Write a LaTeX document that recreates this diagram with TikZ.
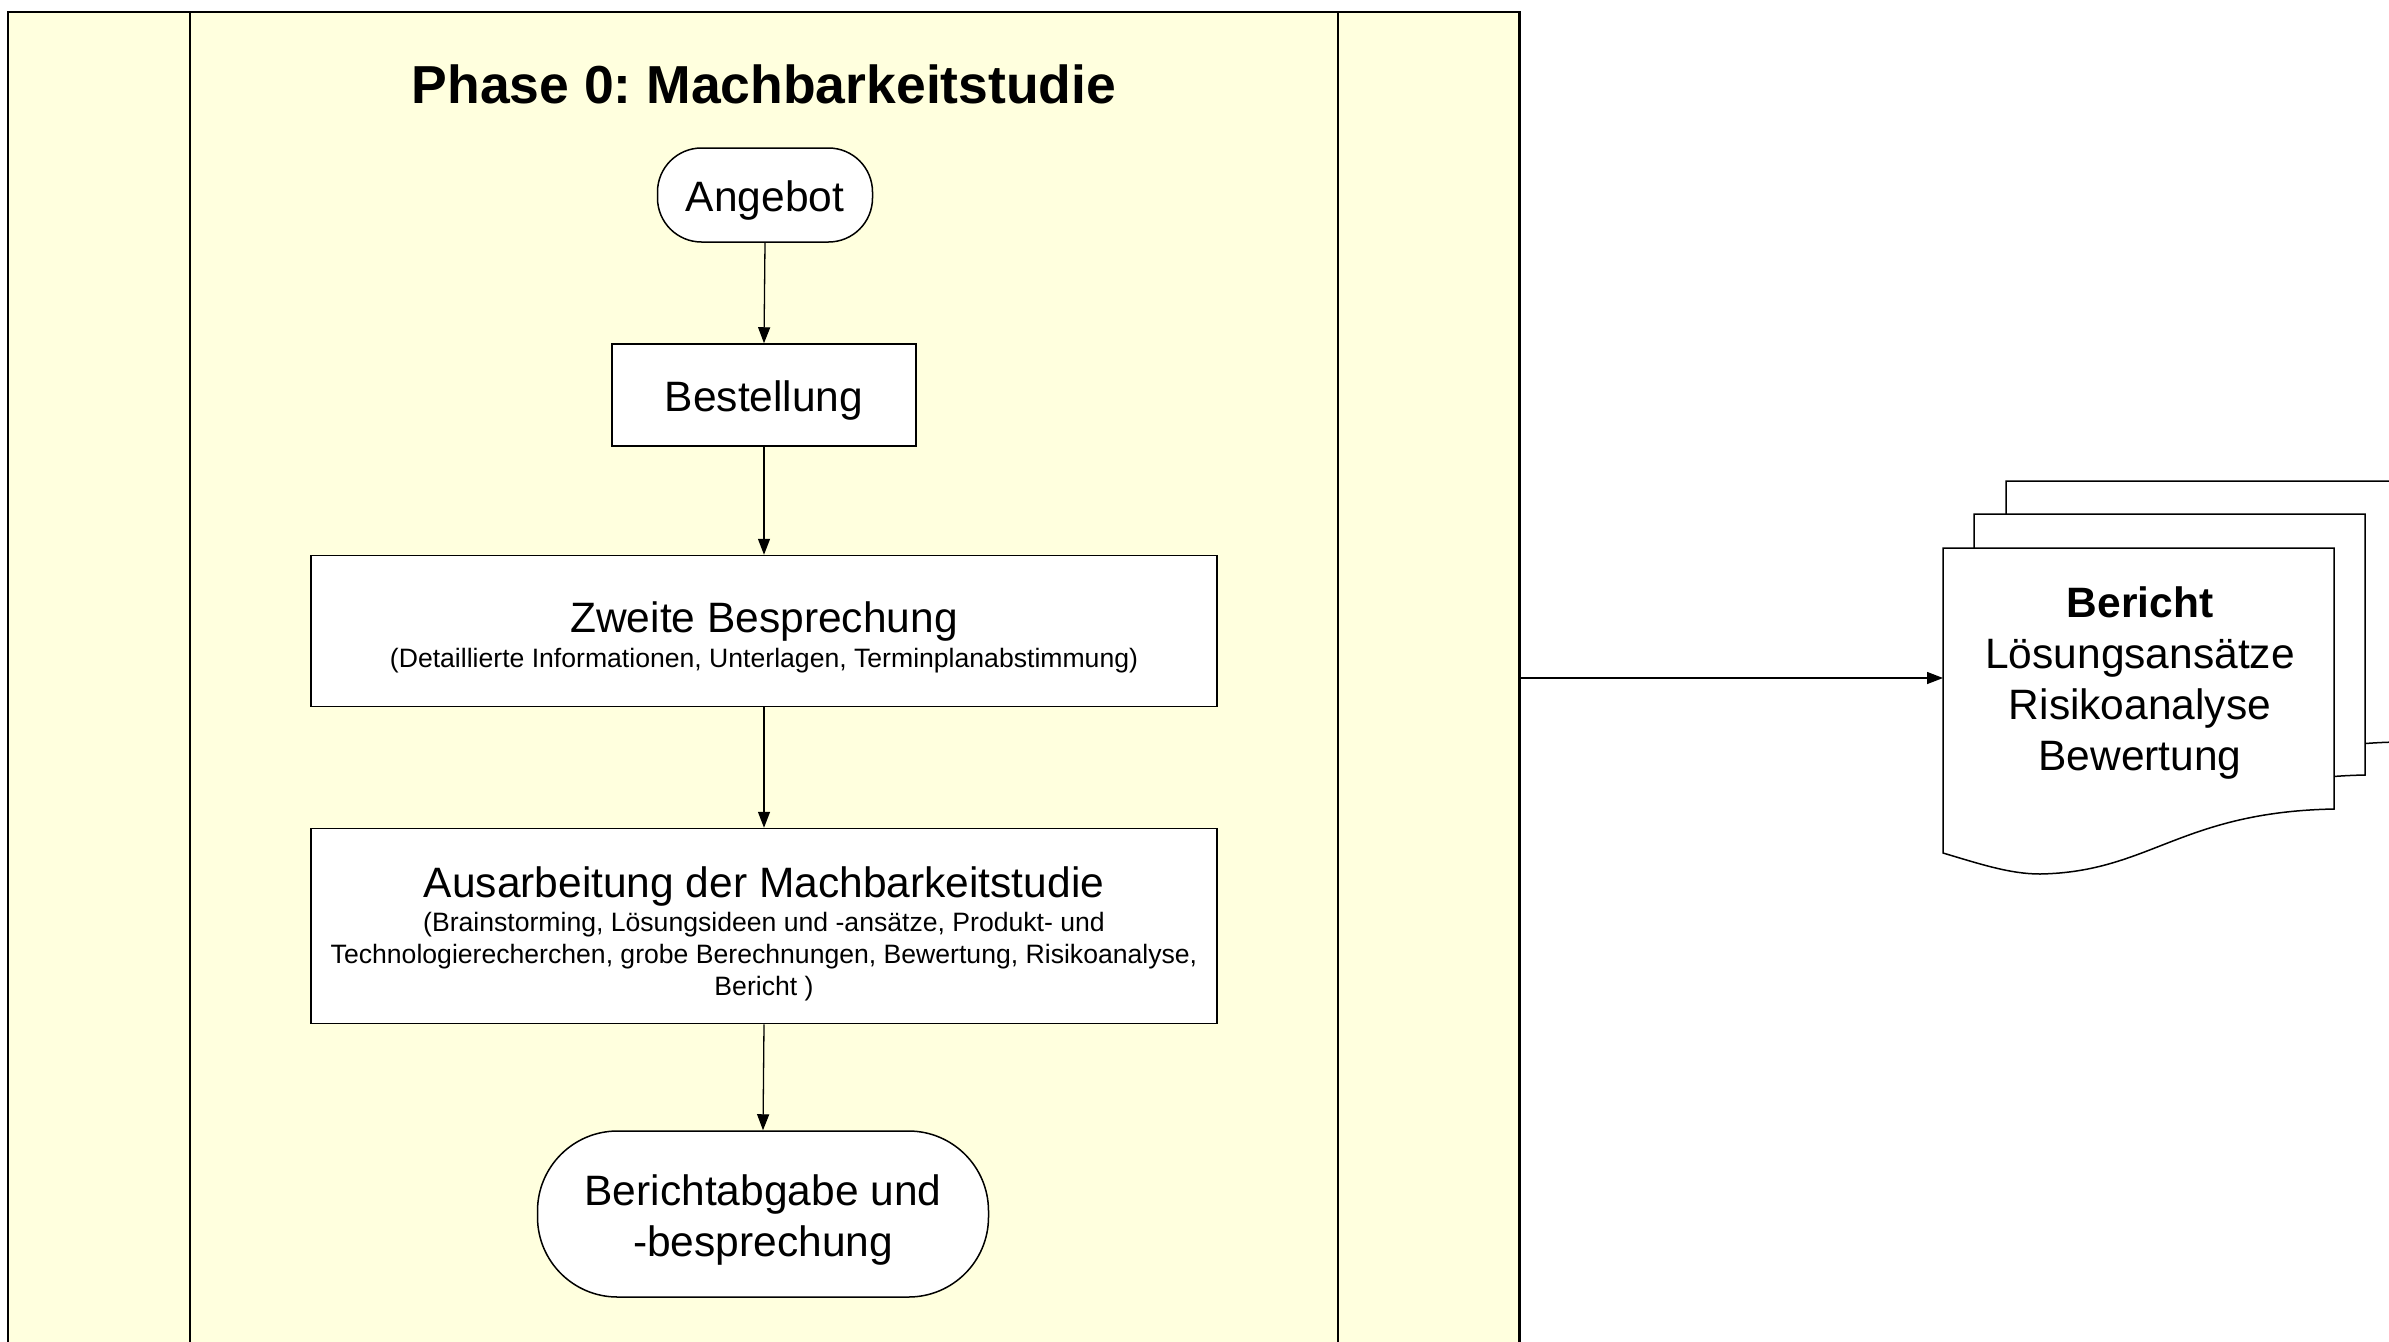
\documentclass[tikz,border=0pt]{standalone}
\usepackage{fontspec}
\setmainfont{Liberation Sans}
\usetikzlibrary{arrows.meta}
\definecolor{lane}{RGB}{255,255,222}
\frenchspacing
\begin{document}
\begin{tikzpicture}[x=1pt,y=-1pt,
  box/.style={draw=black, line width=1.5pt, fill=white, inner sep=0pt},
  big/.style={font=\fontsize{42.5}{51}\selectfont, align=center, inner sep=0pt},
  smalltxt/.style={font=\fontsize{26.6}{32}\selectfont, align=center, inner sep=0pt},
  flow/.style={line width=1.3pt, -{Triangle[length=16pt,width=12pt]}},
  frameline/.style={line width=2pt},
  docshape/.style={draw=black, line width=1.5pt, fill=white}]
\useasboundingbox (0,0) rectangle (2389,1341);
\clip (0,0) rectangle (2389,1341);
% lane
\fill[lane] (8,12) rectangle (1519,1380);
\draw[frameline] (8,1380) -- (8,12) -- (1519,12);
\draw[line width=3pt] (1519,11) -- (1519,1380);
\draw[frameline] (190,12) -- (190,1380);
\draw[frameline] (1338,12) -- (1338,1380);
% title
\node[font=\fontsize{53.5}{60}\selectfont\bfseries, inner sep=0pt] (title) at (764,84) {Phase 0: Machbarkeitstudie};
% flow nodes
\node[box, minimum width=215pt, minimum height=94pt, rounded corners=44pt] (angebot) at (765,195) {};
\node[big] (angebotT) at (765,201) {Angebot};
\node[box, minimum width=304pt, minimum height=102pt] (bestellung) at (764,395) {};
\node[big] (bestellungT) at (764,401) {Bestellung};
\node[box, minimum width=906pt, minimum height=151pt] (zweite) at (764,631) {};
\node[big] (zweiteT) at (764,622) {Zweite Besprechung};
\node[smalltxt] (zweiteS) at (764,661) {(Detaillierte Informationen, Unterlagen, Terminplanabstimmung)};
\node[box, minimum width=906pt, minimum height=195pt] (ausarb) at (764,926) {};
\node[big] (ausarbT) at (764,886) {Ausarbeitung der Machbarkeitstudie};
\node[smalltxt] (ausarbS) at (764,957) {(Brainstorming, Lösungsideen und -ansätze, Produkt- und\\Technologierecherchen, grobe Berechnungen, Bewertung, Risikoanalyse,\\Bericht )};
\node[box, minimum width=451pt, minimum height=166pt, rounded corners=80pt] (abgabe) at (763,1214) {};
\node[big] (abgabeT) at (763,1220) {Berichtabgabe und\\-besprechung};
% connectors
\draw[flow] (angebot.south) -- (bestellung.north);
\draw[flow] (bestellung.south) -- (zweite.north);
\draw[flow] (zweite.south) -- (ausarb.north);
\draw[flow] (ausarb.south) -- (abgabe.north);
% documents
\foreach \dx/\dy in {63/-67, 31/-34, 0/0}{
  \draw[docshape, shift={(\dx,\dy)}] (1943,548) -- (2334,548) -- (2334,809)
    .. controls (2180,812) and (2150,872) .. (2040,874)
    .. controls (2010,874) and (1980,864) .. (1943,853) -- cycle;
}
\node[big] (doctext) at (2140,683) {\textbf{Bericht}\\Lösungsansätze\\Risikoanalyse\\Bewertung};
\coordinate (laneR) at (1519,678);
\coordinate (docL) at (1943,678);
\draw[flow] (laneR) -- (docL);
\end{tikzpicture}
\end{document}
